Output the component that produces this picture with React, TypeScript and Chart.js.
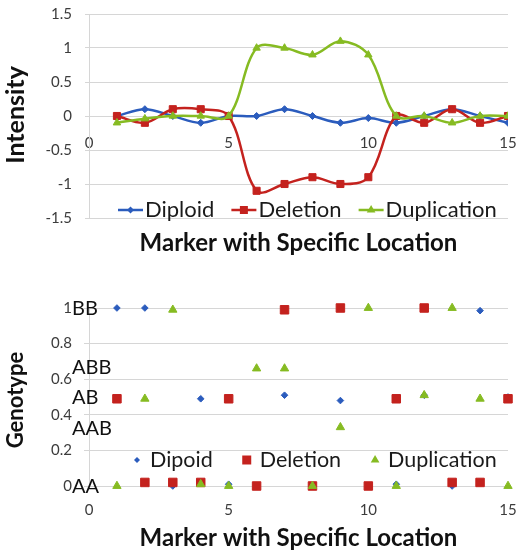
import { useEffect, useRef } from "react";
import { Chart, registerables } from "chart.js";

Chart.register(...registerables);

// Marker positions along the chromosome segment
const markers = [1, 2, 3, 4, 5, 6, 7, 8, 9, 10, 11, 12, 13, 14, 15];

// Intensity (log ratio) per marker
const diploidIntensity = [0, 0.1, 0, -0.1, 0, 0, 0.1, 0, -0.1, -0.03, -0.1, 0, 0.1, 0, -0.1];
const deletionIntensity = [0, -0.1, 0.1, 0.1, 0, -1.1, -1, -0.9, -1, -0.9, 0, -0.1, 0.1, -0.1, 0];
const duplicationIntensity = [-0.1, -0.04, 0, 0, 0, 1, 1, 0.9, 1.1, 0.9, 0, 0, -0.1, 0, 0];

// Genotype (B allele frequency) per marker
const diploidGenotype = [1, 1, 0, 0.49, 0.01, 0, 0.51, 0, 0.48, 0, 0.01, 0.51, 0, 0.985, 0.5];
const deletionGenotype = [0.49, 0.02, 0.02, 0.02, 0.49, 0, 0.99, 0, 1, 0, 0.49, 1, 0.02, 0.02, 0.49];
const duplicationGenotype = [0, 0.49, 0.99, 0.01, 0, 0.66, 0.66, 0, 0.33, 1, 0, 0.51, 1, 0.49, 0];

// Axis ticks
const markerTicks = [0, 5, 10, 15];
const intensityTicks = [-1.5, -1, -0.5, 0, 0.5, 1, 1.5];
const genotypeTicks = [0, 0.2, 0.4, 0.6, 0.8, 1];

// Genotype call names and their allele-frequency levels
const genotypeNames = ["AA", "AAB", "AB", "ABB", "BB"];
const genotypeLevels = [0, 0.33, 0.5, 0.67, 1];

const BLUE = "#2b5cbd";
const RED = "#c4221e";
const GREEN = "#86bb22";
const GRID = "#d6d6d6";
const TICK_COLOR = "#3c3c3c";
const FONT = "Lato, 'Open Sans', sans-serif";

function drawMarker(ctx: CanvasRenderingContext2D, style: string, x: number, y: number, r: number, color: string) {
  ctx.save();
  ctx.fillStyle = color;
  ctx.beginPath();
  if (style === "rectRot") {
    ctx.moveTo(x, y - r);
    ctx.lineTo(x + r, y);
    ctx.lineTo(x, y + r);
    ctx.lineTo(x - r, y);
  } else if (style === "rect") {
    ctx.rect(x - r, y - r, 2 * r, 2 * r);
  } else {
    ctx.moveTo(x, y - r);
    ctx.lineTo(x + r * 0.866, y + r / 2);
    ctx.lineTo(x - r * 0.866, y + r / 2);
  }
  ctx.closePath();
  ctx.fill();
  ctx.restore();
}

// Legend drawn inside the plot area, in dataset order
const insideLegend = {
  id: "insideLegend",
  afterDatasetsDraw(chart: any, _args: any, opts: any) {
    const { ctx } = chart;
    ctx.save();
    ctx.font = opts.font;
    ctx.textBaseline = "middle";
    ctx.textAlign = "left";
    let x = opts.x;
    const y = opts.y;
    chart.data.datasets.forEach((ds: any) => {
      const color = ds.pointBackgroundColor as string;
      const size = opts.markerSizes[ds.pointStyle] ?? 4;
      if (opts.line) {
        ctx.strokeStyle = color;
        ctx.lineWidth = opts.lineWidth;
        ctx.beginPath();
        ctx.moveTo(x, y);
        ctx.lineTo(x + opts.lineLength, y);
        ctx.stroke();
        drawMarker(ctx, ds.pointStyle, x + opts.lineLength / 2, y, size, color);
        x += opts.lineLength + opts.textGap;
      } else {
        drawMarker(ctx, ds.pointStyle, x, y, size, color);
        x += opts.textGap;
      }
      ctx.fillStyle = opts.color;
      ctx.fillText(ds.label, x, y);
      x += ctx.measureText(ds.label).width + opts.itemGap;
    });
    ctx.restore();
  },
};

// Axis titles
const axisCaptions = {
  id: "axisCaptions",
  afterDraw(chart: any, _args: any, opts: any) {
    const { ctx, chartArea } = chart;
    ctx.save();
    ctx.fillStyle = "#111";
    ctx.textAlign = "center";
    ctx.textBaseline = "middle";
    ctx.font = opts.yFont;
    ctx.translate(opts.yTitleX, (chartArea.top + chartArea.bottom) / 2 + (opts.yShift || 0));
    ctx.rotate(-Math.PI / 2);
    ctx.fillText(opts.yTitle, 0, 0);
    ctx.restore();
    ctx.save();
    ctx.fillStyle = "#111";
    ctx.textAlign = "center";
    ctx.textBaseline = "middle";
    ctx.font = opts.xFont;
    ctx.fillText(opts.xTitle, (chartArea.left + chartArea.right) / 2, opts.xTitleY);
    ctx.restore();
  },
};

// Genotype call names next to the allele-frequency axis
const genotypeCalls = {
  id: "genotypeCalls",
  afterDraw(chart: any, _args: any, opts: any) {
    const { ctx, chartArea } = chart;
    const yScale = chart.scales.y;
    ctx.save();
    ctx.font = opts.font;
    ctx.fillStyle = "#111";
    ctx.textAlign = "left";
    ctx.textBaseline = "middle";
    genotypeNames.forEach((name, i) => {
      ctx.fillText(name, chartArea.left + opts.offsetX, yScale.getPixelForValue(genotypeLevels[i]) + 1);
    });
    ctx.restore();
  },
};

const tickFont = { family: FONT, size: 15 };

function pts(values: number[]) {
  return markers.map((m, i) => ({ x: m, y: values[i] }));
}

function lineSet(label: string, values: number[], color: string, style: string, radius: number, order: number) {
  return {
    label,
    data: pts(values),
    borderColor: color,
    backgroundColor: color,
    pointBackgroundColor: color,
    pointBorderColor: color,
    pointBorderWidth: 1,
    pointStyle: style,
    pointRadius: radius,
    borderWidth: 2.5,
    tension: 0.35,
    order,
  };
}

function scatterSet(label: string, values: number[], color: string, style: string, radius: number, order: number) {
  return {
    label,
    data: pts(values),
    backgroundColor: color,
    borderColor: color,
    pointBackgroundColor: color,
    pointBorderColor: color,
    pointBorderWidth: 1,
    pointStyle: style,
    pointRadius: radius,
    showLine: false,
    clip: false as const,
    order,
  };
}

// The plot box is set by the layout padding alone, not by half-label overhang
const fitY = (s: any) => {
  s.width = 89;
  s.paddingTop = 0;
  s.paddingBottom = 0;
};
const fitX = (height?: number) => (s: any) => {
  if (height !== undefined) s.height = height;
  s.paddingLeft = 0;
  s.paddingRight = 0;
};

export default function App() {
  const topRef = useRef<HTMLCanvasElement>(null);
  const bottomRef = useRef<HTMLCanvasElement>(null);

  useEffect(() => {
    const intensityChart = new Chart(topRef.current!, {
      type: "line",
      data: {
        datasets: [
          lineSet("Diploid", diploidIntensity, BLUE, "rectRot", 3.5, 3),
          lineSet("Deletion", deletionIntensity, RED, "rect", 5, 2),
          lineSet("Duplication", duplicationIntensity, GREEN, "triangle", 4.3, 1),
        ] as any,
      },
      plugins: [insideLegend, axisCaptions],
      options: {
        animation: false,
        responsive: false,
        events: [],
        layout: { padding: { left: 0, right: 8, top: 14, bottom: 44 } },
        plugins: {
          legend: { display: false },
          tooltip: { enabled: false },
          insideLegend: {
            x: 118,
            y: 210,
            line: true,
            lineLength: 25,
            lineWidth: 2.5,
            textGap: 2,
            itemGap: 17,
            font: `22px ${FONT}`,
            color: "#1a1a1a",
            markerSizes: { rectRot: 3.5, rect: 4, triangle: 5 },
          },
          axisCaptions: {
            yTitle: "Intensity",
            yTitleX: 16,
            yShift: -1,
            yFont: `bold 25px ${FONT}`,
            xTitle: "Marker with Specific Location",
            xTitleY: 243,
            xFont: `bold 24px ${FONT}`,
          },
        } as any,
        scales: {
          x: {
            type: "linear",
            min: 0,
            max: 15,
            position: { y: 0 } as any,
            afterBuildTicks: (s: any) => {
              s.ticks = markerTicks.map((v) => ({ value: v }));
            },
            afterFit: fitX(),
            ticks: { font: tickFont, color: TICK_COLOR, padding: 18, maxRotation: 0 },
            grid: { display: false, drawTicks: false },
            border: { display: false },
          },
          y: {
            min: -1.5,
            max: 1.5,
            afterBuildTicks: (s: any) => {
              s.ticks = intensityTicks.map((v) => ({ value: v }));
            },
            afterFit: fitY,
            ticks: { font: tickFont, color: TICK_COLOR, padding: 13, callback: (v: any) => String(v) },
            grid: { color: GRID, tickLength: 4, lineWidth: 1 },
            border: { color: GRID },
          },
        },
      },
    });

    const genotypeChart = new Chart(bottomRef.current!, {
      type: "scatter",
      data: {
        datasets: [
          scatterSet("Dipoid", diploidGenotype, BLUE, "rectRot", 3.3, 3),
          scatterSet("Deletion", deletionGenotype, RED, "rect", 6, 2),
          scatterSet("Duplication", duplicationGenotype, GREEN, "triangle", 4.8, 1),
        ] as any,
      },
      plugins: [insideLegend, axisCaptions, genotypeCalls],
      options: {
        animation: false,
        responsive: false,
        events: [],
        layout: { padding: { left: 0, right: 8, top: 46, bottom: 0 } },
        plugins: {
          legend: { display: false },
          tooltip: { enabled: false },
          insideLegend: {
            x: 137,
            y: 198,
            line: false,
            textGap: 13,
            itemGap: 34,
            font: `21.5px ${FONT}`,
            color: "#1a1a1a",
            markerSizes: { rectRot: 3, rect: 4.5, triangle: 5 },
          },
          axisCaptions: {
            yTitle: "Genotype",
            yTitleX: 16,
            yShift: 3,
            yFont: `bold 22px ${FONT}`,
            xTitle: "Marker with Specific Location",
            xTitleY: 276,
            xFont: `bold 24px ${FONT}`,
          },
          genotypeCalls: { font: `20px ${FONT}`, offsetX: -17 },
        } as any,
        scales: {
          x: {
            type: "linear",
            min: 0,
            max: 15,
            afterBuildTicks: (s: any) => {
              s.ticks = markerTicks.map((v) => ({ value: v }));
            },
            afterFit: fitX(64),
            ticks: { font: tickFont, color: TICK_COLOR, padding: 15, maxRotation: 0 },
            grid: { display: false, drawTicks: false },
            border: { color: GRID },
          },
          y: {
            min: 0,
            max: 1,
            afterBuildTicks: (s: any) => {
              s.ticks = genotypeTicks.map((v) => ({ value: v }));
            },
            afterFit: fitY,
            ticks: { font: tickFont, color: TICK_COLOR, padding: 12, callback: (v: any) => String(v) },
            grid: { color: GRID, tickLength: 5, lineWidth: 1 },
            border: { color: GRID },
          },
        },
      },
    });

    return () => {
      intensityChart.destroy();
      genotypeChart.destroy();
    };
  }, []);

  return (
    <div style={{ position: "absolute", left: 0, top: 0, width: 516, height: 550, background: "#fff" }}>
      <canvas ref={topRef} width={516} height={262} style={{ display: "block" }} />
      <canvas ref={bottomRef} width={516} height={288} style={{ display: "block" }} />
    </div>
  );
}
